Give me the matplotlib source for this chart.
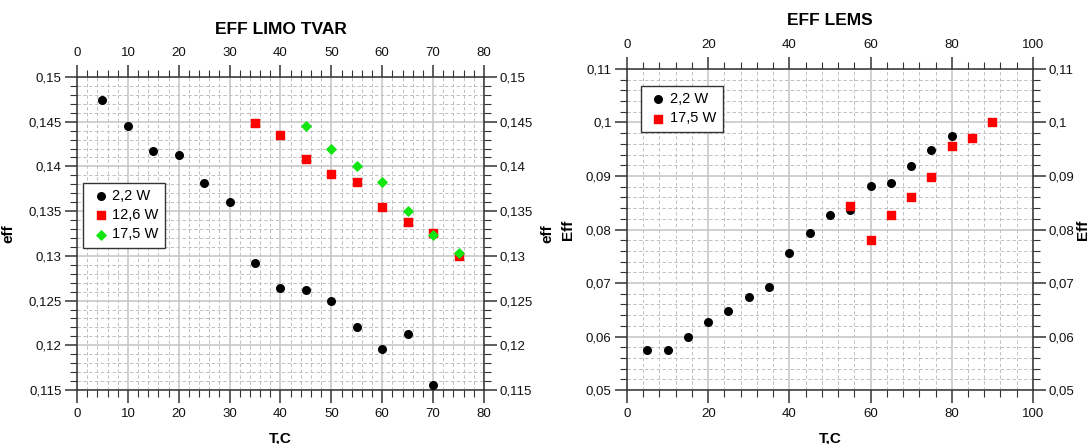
import matplotlib
matplotlib.use("Agg")
import matplotlib.pyplot as plt
from matplotlib.ticker import MultipleLocator, FuncFormatter

# LIMO TVAR efficiency vs temperature
limo_t_22 = [5, 10, 15, 20, 25, 30, 35, 40, 45, 50, 55, 60, 65, 70]
limo_eff_22 = [0.1474, 0.1445, 0.1417, 0.1413, 0.1382, 0.1360, 0.1292,
               0.1264, 0.1262, 0.1249, 0.1221, 0.1196, 0.1213, 0.1156]
limo_t_126 = [35, 40, 45, 50, 55, 60, 65, 70, 75]
limo_eff_126 = [0.1448, 0.1435, 0.1408, 0.1392, 0.1383, 0.1355, 0.1338,
                0.1326, 0.1300]
limo_t_175 = [45, 50, 55, 60, 65, 70, 75]
limo_eff_175 = [0.1445, 0.1420, 0.1401, 0.1383, 0.1350, 0.1323, 0.1303]

# LEMS efficiency vs temperature
lems_t_22 = [5, 10, 15, 20, 25, 30, 35, 40, 45, 50, 55, 60, 65, 70, 75, 80]
lems_eff_22 = [0.0574, 0.0575, 0.0600, 0.0628, 0.0647, 0.0673, 0.0693,
               0.0757, 0.0794, 0.0827, 0.0837, 0.0882, 0.0886, 0.0919,
               0.0949, 0.0974]
lems_t_175 = [55, 60, 65, 70, 75, 80, 85, 90]
lems_eff_175 = [0.0843, 0.0781, 0.0828, 0.0861, 0.0898, 0.0957, 0.0971,
                0.1000]

plt.rcParams["font.family"] = ["Liberation Sans", "DejaVu Sans"]
comma = FuncFormatter(lambda v, pos: f"{v:.6g}".replace(".", ","))


def style_axes(ax, xlim, ylim, xmaj, xmin, ymaj, ymin, title, ylabel,
               title_pad, ylab_left, ylab_right):
    ax.set_xlim(*xlim)
    ax.set_ylim(*ylim)
    ax.xaxis.set_major_locator(MultipleLocator(xmaj))
    ax.xaxis.set_minor_locator(MultipleLocator(xmin))
    ax.yaxis.set_major_locator(MultipleLocator(ymaj))
    ax.yaxis.set_minor_locator(MultipleLocator(ymin))
    ax.yaxis.set_major_formatter(comma)
    ax.xaxis.set_major_formatter(FuncFormatter(lambda v, pos: f"{v:g}"))
    ax.grid(which="major", color="#c4c4c4", lw=1.1, ls="-")
    ax.grid(which="minor", color="#c0c0c0", lw=0.7, ls=(0, (3.5, 2.5)))
    ax.set_axisbelow(True)
    ax.tick_params(which="both", direction="out", top=True, right=True,
                   labeltop=True, labelright=True, colors="#333333",
                   labelcolor="#111111", labelsize=9.5)
    ax.tick_params(which="major", length=9, width=1.1)
    ax.tick_params(axis="y", which="major", pad=2)
    ax.tick_params(axis="x", which="major", pad=4)
    ax.tick_params(which="minor", length=5, width=0.8)
    for s in ax.spines.values():
        s.set_color("#333333")
        s.set_linewidth(1.1)
    ax.set_title(title, fontsize=12.5, fontweight="bold", pad=title_pad)
    ax.set_xlabel("T,C", fontsize=11, fontweight="bold", labelpad=8)
    ax.set_ylabel(ylabel, fontsize=11, fontweight="bold")
    ax.yaxis.set_label_coords(ylab_left, 0.5)
    ax.text(ylab_right, 0.5, ylabel, transform=ax.transAxes, rotation=90,
            ha="center", va="center", fontsize=11, fontweight="bold")


fig = plt.figure(figsize=(10.91, 4.44), dpi=100)
ax1 = fig.add_axes([0.0706, 0.1216, 0.373, 0.705])
ax2 = fig.add_axes([0.5747, 0.1216, 0.3721, 0.723])

ax1.scatter(limo_t_22, limo_eff_22, s=30, marker="o", color="black", label="2,2 W", zorder=3)
ax1.scatter(limo_t_126, limo_eff_126, s=40, marker="s", color="#ff0000", label="12,6 W", zorder=3)
ax1.scatter(limo_t_175, limo_eff_175, s=22, marker="D", color="#11e611", label="17,5 W", zorder=4)
style_axes(ax1, (0, 80), (0.115, 0.15), 10, 2, 0.005, 0.001,
           "EFF LIMO TVAR", "eff", 9.5, -0.152, 1.157)

ax2.scatter(lems_t_22, lems_eff_22, s=30, marker="o", color="black", label="2,2 W", zorder=3)
ax2.scatter(lems_t_175, lems_eff_175, s=40, marker="s", color="#ff0000", label="17,5 W", zorder=3)
style_axes(ax2, (0, 100), (0.05, 0.11), 20, 4, 0.01, 0.002,
           "EFF LEMS", "Eff", 10, -0.128, 1.123)

for ax, loc in ((ax1, (0.015, 0.454)), (ax2, (0.034, 0.804))):
    leg = ax.legend(loc="lower left", bbox_to_anchor=loc, fancybox=False,
                    framealpha=1, edgecolor="#333333", fontsize=10.5,
                    handletextpad=0.05, borderpad=0.45, labelspacing=0.35,
                    handlelength=1.5, borderaxespad=0)
    leg.get_frame().set_linewidth(1.0)

fig.savefig("out.png", dpi=100)
